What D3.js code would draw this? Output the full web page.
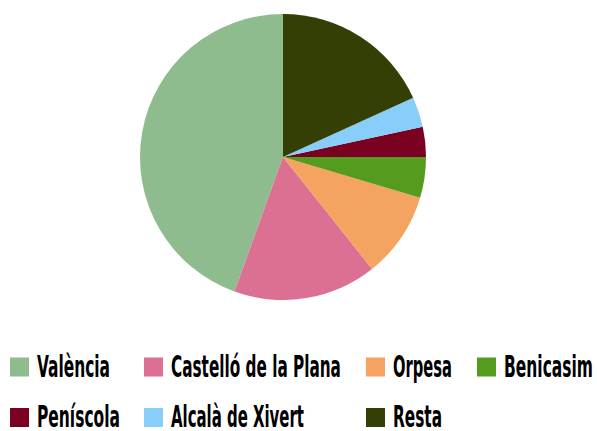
<!DOCTYPE html>
<html><head><meta charset="utf-8">
<script src="https://cdn.jsdelivr.net/npm/d3@7"></script>
<style>html,body{margin:0;padding:0;background:#fff;}svg{display:block;}</style>
</head><body>
<svg id="chart" width="597" height="431"></svg>
<script>
const categories = ["València", "Castelló de la Plana", "Orpesa", "Benicasim", "Peníscola", "Alcalà de Xivert", "Resta"];
const values = [44.5, 16.2, 9.7, 4.6, 3.4, 3.4, 18.2];
const colors = ["#8fbc8f", "#db7093", "#f4a460", "#559b1d", "#7a0022", "#87cefa", "#333f05"];

const svg = d3.select("#chart");
const cx = 283, cy = 157, r = 143;

const pie = d3.pie().sort(null).value(d => d.v).startAngle(0).endAngle(-2 * Math.PI);
const arc = d3.arc().innerRadius(0).outerRadius(r);
const data = categories.map((c, i) => ({c, v: values[i], col: colors[i]}));

svg.append("g").attr("transform", `translate(${cx},${cy})`)
  .selectAll("path").data(pie(data)).enter().append("path")
  .attr("d", arc).attr("fill", d => d.data.col);

// legend
const legendX = [10, 144, 366, 477];
const textWidths = [73, 170, 59, 89, 83, 133, 49];
const rowsY = [376.5, 427];
const legendPos = [[0,0],[1,0],[2,0],[3,0],[0,1],[1,1],[2,1]];
const lg = svg.append("g");
data.forEach((d, i) => {
  const [col, row] = legendPos[i];
  const x = legendX[col], by = rowsY[row];
  lg.append("rect").attr("x", x).attr("y", by - 19).attr("width", 19).attr("height", 19).attr("fill", d.col);
  const t = lg.append("text").attr("x", 0).attr("y", 0)
    .attr("font-family", "'DejaVu Sans Condensed', 'DejaVu Sans', sans-serif")
    .attr("font-weight", "bold").attr("font-size", 31).attr("fill", "#000")
    .text(d.c);
  const w = t.node().getComputedTextLength();
  const sx = textWidths[i] / w;
  t.attr("transform", `translate(${x + 27},${by}) scale(${sx},1)`);
});
</script>
</body></html>
